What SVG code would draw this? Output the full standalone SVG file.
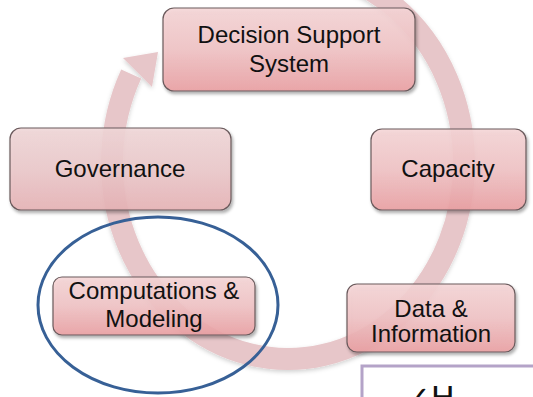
<svg xmlns="http://www.w3.org/2000/svg" width="533" height="397" viewBox="0 0 533 397">
  <defs>
    <linearGradient id="gBox" x1="0" y1="0" x2="0" y2="1">
      <stop offset="0" stop-color="#f6d6d7"/>
      <stop offset="0.5" stop-color="#f1c3c5"/>
      <stop offset="1" stop-color="#eca0a3"/>
    </linearGradient>
    <linearGradient id="gBoxSoft" x1="0" y1="0" x2="0" y2="1">
      <stop offset="0" stop-color="#f1d8d9"/>
      <stop offset="0.5" stop-color="#edc9cb"/>
      <stop offset="1" stop-color="#e8b3b6"/>
    </linearGradient>
    <filter id="shadow" x="-10%" y="-10%" width="125%" height="135%">
      <feDropShadow dx="1.5" dy="2.5" stdDeviation="1.8" flood-color="#000" flood-opacity="0.35"/>
    </filter>
    <filter id="ringShadow" x="-10%" y="-10%" width="120%" height="125%">
      <feDropShadow dx="0" dy="2" stdDeviation="2" flood-color="#000" flood-opacity="0.18"/>
    </filter>
  </defs>
  <style>
    .box { fill: url(#gBox); fill-opacity: 0.88; stroke: #6a5a5c; stroke-width: 1.2; filter: url(#shadow); }
    .soft { fill: url(#gBoxSoft); }
    .lbl { font-family: "Liberation Sans", Arial, sans-serif; font-size: 24px; fill: #111; text-anchor: middle; }
    .ring { fill: none; stroke: #e7c6c9; stroke-width: 22; }
  </style>

  <rect width="533" height="397" fill="#ffffff"/>

  <g id="connectors" filter="url(#ringShadow)">
    <path class="ring" d="M242.4,-26.3 A176,196 0 1 1 131.2,74.0"/>
    <polygon points="123,58 158,52 152,87" fill="#e7c6c9"/>
  </g>

  <g id="node-dss">
    <rect class="box" x="163" y="8" width="252" height="83" rx="11"/>
    <text class="lbl" x="289" y="43">Decision Support</text>
    <text class="lbl" x="289" y="72">System</text>
  </g>

  <g id="node-governance">
    <rect class="box soft" x="10" y="128" width="221" height="82" rx="11"/>
    <text class="lbl" x="120" y="177">Governance</text>
  </g>

  <g id="node-capacity">
    <rect class="box" x="371" y="129" width="155" height="81" rx="11"/>
    <text class="lbl" x="448" y="177">Capacity</text>
  </g>

  <g id="node-computations">
    <rect class="box" x="53" y="277" width="202" height="58" rx="9"/>
    <text class="lbl" x="154" y="299">Computations &amp;</text>
    <text class="lbl" x="154" y="327">Modeling</text>
  </g>

  <g id="node-data">
    <rect class="box" x="347" y="284" width="168" height="68" rx="10"/>
    <text class="lbl" x="431" y="317">Data &amp;</text>
    <text class="lbl" x="431" y="342">Information</text>
  </g>

  <g id="highlight">
    <ellipse cx="158" cy="305" rx="120" ry="88" fill="none" stroke="#376096" stroke-width="3"/>
  </g>

  <g id="panel">
    <rect x="362" y="366" width="190" height="60" fill="#ffffff" stroke="#b4a3c8" stroke-width="3"/>
    <text x="404" y="409" font-family="DejaVu Sans, sans-serif" font-size="32" fill="#111">✓H</text>
  </g>
</svg>
